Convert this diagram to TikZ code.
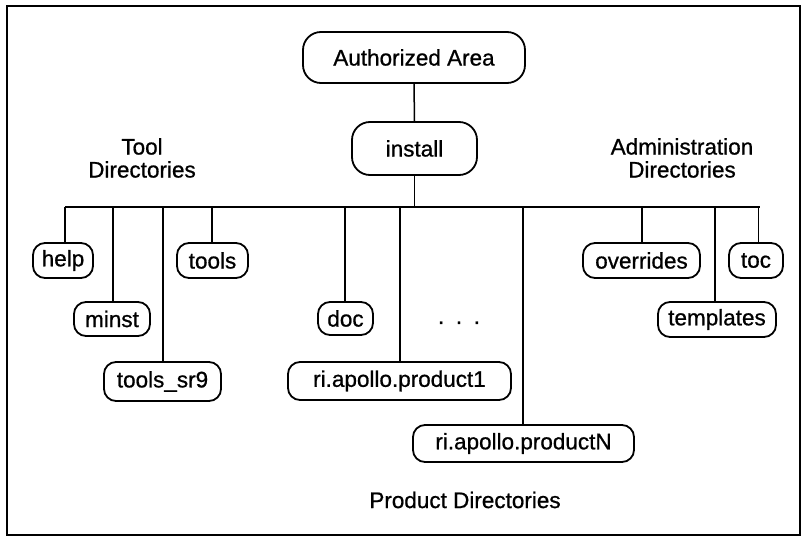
\documentclass[tikz,border=0pt]{standalone}
\usepackage{fontspec}
\setmainfont{Liberation Sans}[BoldFont={Liberation Sans}, BoldFeatures={FakeBold=0.8}]
\begin{document}
\begin{tikzpicture}[x=1pt,y=-1pt,
  dirbox/.style={draw, line width=1.8pt, rounded corners=12pt, inner sep=0pt,
    font=\fontsize{22.5}{24}\selectfont\bfseries},
  bigbox/.style={dirbox, rounded corners=18pt},
  conn/.style={line width=1.5pt},
  lbl/.style={font=\fontsize{22.5}{23}\selectfont\bfseries, align=center, inner sep=0pt}]
\useasboundingbox (0,0) rectangle (804,540);
\draw[line width=1.2pt] (7,6) rectangle (800,535);

% top nodes
\node[bigbox, minimum width=222pt, minimum height=51pt] (aa) at (414,57.5) {Authorized Area};
\node[bigbox, minimum width=125pt, minimum height=53pt] (inst) at (414.5,148.5) {install};

% group labels
\node[lbl] (tooll) at (142,158) {Tool\\Directories};
\node[lbl] (adminl) at (682,158) {Administration\\Directories};
\node[lbl] (prodl) at (465,500) {Product Directories};

% leaves
\node[dirbox, minimum width=60pt, minimum height=35pt] (help) at (63,260.5) {help};
\node[dirbox, minimum width=76pt, minimum height=34pt] (minst) at (112,319) {minst};
\node[dirbox, minimum width=117pt, minimum height=39pt] (sr9) at (162.5,381.5) {tools\_sr9};
\node[dirbox, minimum width=71pt, minimum height=35pt] (tools) at (212.5,260.5) {tools};
\node[dirbox, minimum width=55pt, minimum height=33pt] (doc) at (345.5,318.5) {doc};
\node[dirbox, minimum width=223pt, minimum height=38pt] (p1) at (399.5,381) {ri.apollo.product1};
\node[dirbox, minimum width=221pt, minimum height=37pt] (pn) at (523.5,443.5) {ri.apollo.productN};
\node[dirbox, minimum width=117pt, minimum height=35pt] (over) at (641.5,260.5) {overrides};
\node[dirbox, minimum width=118pt, minimum height=35pt] (templ) at (717,319.5) {templates};
\node[dirbox, minimum width=54pt, minimum height=35pt] (toc) at (756,260.5) {toc};
\node[lbl, anchor=base] (dots) at (459,324) {.\hspace{11.6pt}.\hspace{11.6pt}.};

% bar
\coordinate (bl) at (65,207);
\coordinate (br) at (760,207);
\coordinate (c1) at (65,207);
\coordinate (c2) at (113,207);
\coordinate (c3) at (163,207);
\coordinate (c4) at (212,207);
\coordinate (c5) at (345,207);
\coordinate (c6) at (400,207);
\coordinate (c7) at (523,207);
\coordinate (c8) at (642,207);
\coordinate (c9) at (715,207);
\coordinate (c10) at (758.5,207);

\draw[conn] (aa.south) -- (inst.north);
\draw[conn] (inst.south) -- (inst.south |- bl);
\draw[conn] (bl) -- (br);
\draw[conn] (c1) -- (c1 |- help.north);
\draw[conn] (c2) -- (c2 |- minst.north);
\draw[conn] (c3) -- (c3 |- sr9.north);
\draw[conn] (c4) -- (c4 |- tools.north);
\draw[conn] (c5) -- (c5 |- doc.north);
\draw[conn] (c6) -- (c6 |- p1.north);
\draw[conn] (c7) -- (c7 |- pn.north);
\draw[conn] (c8) -- (c8 |- over.north);
\draw[conn] (c9) -- (c9 |- templ.north);
\draw[conn] (c10) -- (c10 |- toc.north);
\end{tikzpicture}
\end{document}
